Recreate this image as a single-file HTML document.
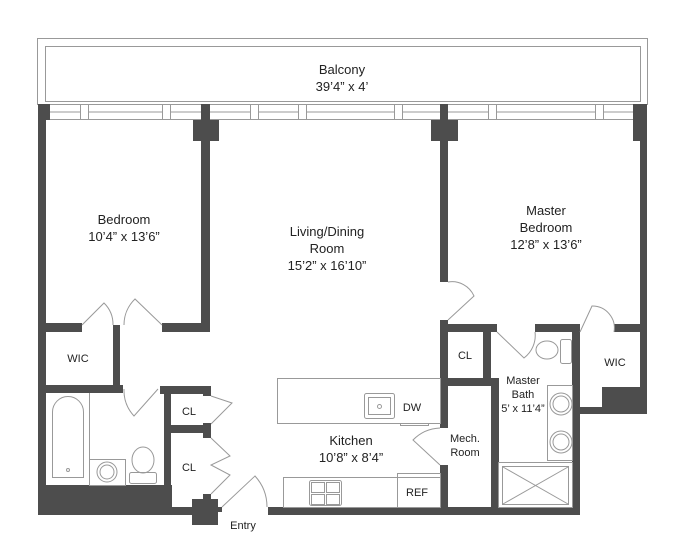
<!DOCTYPE html>
<html><head><meta charset="utf-8"><style>
html,body{margin:0;padding:0;background:#fff;width:695px;height:555px;overflow:hidden}
svg{display:block}
text{font-family:"Liberation Sans",sans-serif;fill:#222;text-anchor:middle}
</style></head><body>
<svg width="695" height="555" viewBox="0 0 695 555" xmlns="http://www.w3.org/2000/svg">
<!-- balcony -->
<g fill="none" stroke="#999" stroke-width="1">
<rect x="37.5" y="38.5" width="610" height="66"/>
<rect x="45.5" y="46.5" width="595" height="55"/>
<rect x="45.5" y="104.5" width="594" height="15"/>
<line x1="45" y1="112" x2="640" y2="112"/>
</g>
<g fill="#fff" stroke="#999">
<rect x="80.5" y="104.5" width="8" height="15"/><rect x="162.5" y="104.5" width="8" height="15"/>
<rect x="250.5" y="104.5" width="8" height="15"/><rect x="298.5" y="104.5" width="8" height="15"/>
<rect x="394.5" y="104.5" width="8" height="15"/><rect x="488.5" y="104.5" width="8" height="15"/>
<rect x="595.5" y="104.5" width="8" height="15"/>
</g>
<!-- walls -->
<g fill="#4d4d4d">
<rect x="38" y="104" width="8" height="411"/>
<rect x="38" y="104" width="12" height="16"/>
<rect x="38" y="485" width="134" height="30"/>
<rect x="201" y="104" width="9" height="226"/>
<rect x="193" y="120" width="26" height="21"/>
<rect x="45" y="323" width="37" height="9"/>
<rect x="162" y="323" width="48" height="9"/>
<rect x="113" y="325" width="7" height="68"/>
<rect x="45" y="385" width="78" height="8"/>
<rect x="164" y="386" width="7" height="129"/>
<rect x="160" y="386" width="51" height="8"/>
<rect x="203" y="386" width="8" height="10"/>
<rect x="171" y="425" width="40" height="8"/>
<rect x="203" y="423" width="8" height="15"/>
<rect x="171" y="507" width="25" height="8"/>
<rect x="203" y="494" width="8" height="6"/>
<rect x="192" y="499" width="26" height="26"/>
<rect x="218" y="507" width="4" height="5"/>
<rect x="268" y="507" width="312" height="8"/>
<rect x="440" y="104" width="8" height="178"/>
<rect x="431" y="120" width="27" height="21"/>
<rect x="633" y="104" width="14" height="37"/>
<rect x="640" y="104" width="7" height="310"/>
<rect x="440" y="320" width="8" height="108"/>
<rect x="440" y="465" width="8" height="50"/>
<rect x="440" y="324" width="57" height="8"/>
<rect x="483" y="324" width="8" height="55"/>
<rect x="440" y="378" width="51" height="8"/>
<rect x="491" y="378" width="8" height="137"/>
<rect x="535" y="324" width="45" height="8"/>
<rect x="614" y="324" width="33" height="8"/>
<rect x="572" y="324" width="8" height="191"/>
<rect x="580" y="407" width="67" height="7"/>
<rect x="602" y="387" width="45" height="27"/>
</g>
<!-- fixtures -->
<g fill="none" stroke="#999" stroke-width="1">
<rect x="277.5" y="378.5" width="163" height="45"/>
<rect x="364.5" y="393.5" width="30" height="25" rx="2"/>
<rect x="368.5" y="397.5" width="22" height="17"/>
<circle cx="379.5" cy="406.5" r="2"/>
<rect x="400.5" y="423.5" width="28" height="2"/>
<rect x="283.5" y="477.5" width="157" height="30"/>
<rect x="397.5" y="473.5" width="43" height="34"/>
<rect x="309.5" y="480.5" width="32" height="25" rx="2"/>
<rect x="311.5" y="482.5" width="13" height="10"/><rect x="326.5" y="482.5" width="13" height="10"/>
<rect x="311.5" y="494.5" width="13" height="10"/><rect x="326.5" y="494.5" width="13" height="10"/>
<path d="M52.5 477.5 V412 A15.5 15.5 0 0 1 83.5 412 V477.5 Z"/>
<circle cx="68" cy="470" r="1.5"/>
<line x1="89.5" y1="393" x2="89.5" y2="485"/>
<rect x="89.5" y="459.5" width="36" height="26"/>
<circle cx="107" cy="472" r="10"/><circle cx="107" cy="472" r="7"/>
<ellipse cx="143" cy="460" rx="11" ry="13"/>
<rect x="129.5" y="472.5" width="27" height="11" rx="2"/>
<ellipse cx="547" cy="350" rx="11" ry="9"/>
<rect x="560.5" y="339.5" width="11" height="24" rx="2"/>
<rect x="547.5" y="385.5" width="25" height="75"/>
<circle cx="561" cy="404" r="11"/><circle cx="561" cy="404" r="8"/>
<circle cx="561" cy="442" r="11"/><circle cx="561" cy="442" r="8"/>
<rect x="498.5" y="462.5" width="74" height="45"/>
<rect x="502.5" y="466.5" width="66" height="38"/>
<line x1="503" y1="467" x2="568" y2="504"/><line x1="568" y1="467" x2="503" y2="504"/>
<!-- doors -->
<path d="M82 325 L104 303 A30 30 0 0 1 113 325"/>
<path d="M162 325 L135 299 A36 36 0 0 0 124 325"/>
<path d="M158 389 L134 416 A38 38 0 0 1 124 389"/>
<path d="M211 396 L232 403 L211 424"/>
<path d="M211 438 L230 456 L211 465 L230 475 L211 494"/>
<path d="M222 507 L255 476 A46 46 0 0 1 267 507"/>
<path d="M448 282 A24 24 0 0 1 474 296 L448 320"/>
<path d="M497 332 L524 358 A28 28 0 0 0 535 332"/>
<path d="M580 332 L592 306 A22 22 0 0 1 614 332"/>
<path d="M440 428 A40 40 0 0 0 413 440 L440 465"/>
</g>
<!-- labels -->
<g font-size="13">
<text x="342" y="74">Balcony</text><text x="342" y="91">39’4” x 4’</text>
<text x="124" y="224">Bedroom</text><text x="124" y="241">10’4” x 13’6”</text>
<text x="327" y="236">Living/Dining</text><text x="327" y="253">Room</text><text x="327" y="270">15’2” x 16’10”</text>
<text x="546" y="215">Master</text><text x="546" y="232">Bedroom</text><text x="546" y="249">12’8” x 13’6”</text>
<text x="351" y="445">Kitchen</text><text x="351" y="462">10’8” x 8’4”</text>
</g>
<g font-size="11">
<text x="78" y="362">WIC</text><text x="615" y="366">WIC</text>
<text x="189" y="415">CL</text><text x="189" y="471">CL</text><text x="465" y="359">CL</text>
<text x="523" y="384">Master</text><text x="523" y="398">Bath</text><text x="523" y="412">5’ x 11’4”</text>
<text x="465" y="442">Mech.</text><text x="465" y="456">Room</text>
<text x="417" y="496">REF</text><text x="412" y="411">DW</text>
<text x="243" y="529">Entry</text>
</g>
</svg>
</body></html>
